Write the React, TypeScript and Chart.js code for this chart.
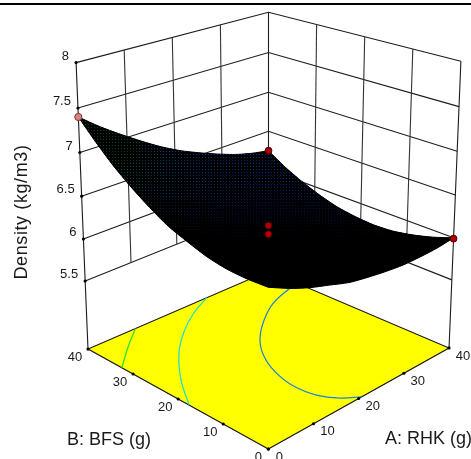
import React, { useEffect, useRef } from "react";
import { Chart, registerables } from "chart.js";

Chart.register(...registerables);

// Factor levels (g) of the grid on which the surface was read
const gridLevels = [0, 4, 8, 12, 16, 20, 24, 28, 32, 36, 40];
// Density (kg/m3) read for A: RHK = 0..40 at each B: BFS level
const densityB0 = [6.39, 6.28, 6.19, 6.12, 6.05, 6.01, 5.98, 5.96, 5.96, 5.97, 6.0];
const densityB4 = [6.38, 6.27, 6.17, 6.08, 6.01, 5.96, 5.92, 5.9, 5.89, 5.89, 5.92];
const densityB8 = [6.39, 6.27, 6.17, 6.07, 6.0, 5.94, 5.89, 5.86, 5.84, 5.84, 5.86];
const densityB12 = [6.43, 6.3, 6.19, 6.09, 6.01, 5.94, 5.89, 5.85, 5.82, 5.82, 5.82];
const densityB16 = [6.5, 6.36, 6.24, 6.13, 6.04, 5.97, 5.91, 5.86, 5.83, 5.81, 5.81];
const densityB20 = [6.58, 6.44, 6.31, 6.2, 6.1, 6.02, 5.95, 5.9, 5.86, 5.84, 5.83];
const densityB24 = [6.7, 6.55, 6.41, 6.29, 6.19, 6.1, 6.02, 5.96, 5.92, 5.89, 5.87];
const densityB28 = [6.84, 6.68, 6.54, 6.41, 6.3, 6.2, 6.12, 6.05, 6.0, 5.96, 5.94];
const densityB32 = [7.0, 6.83, 6.68, 6.55, 6.43, 6.32, 6.24, 6.16, 6.1, 6.06, 6.03];
const densityB36 = [7.19, 7.02, 6.86, 6.72, 6.59, 6.48, 6.38, 6.3, 6.23, 6.18, 6.14];
const densityB40 = [7.4, 7.22, 7.06, 6.91, 6.77, 6.65, 6.55, 6.46, 6.38, 6.32, 6.28];
const surfaceRows = [densityB0, densityB4, densityB8, densityB12, densityB16, densityB20, densityB24, densityB28, densityB32, densityB36, densityB40];

// Design points
const designA = [0, 40, 40, 20, 20];
const designB = [40, 40, 0, 20, 20];
const designDensity = [7.4, 6.28, 5.99, 6.15, 6.05];

// Contours on the floor
const contourHighA = [0, 4.9, 9.6];
const contourHighB = [31.6, 36.1, 40];
const contourMidA = [0, 3.9, 9.1, 14.4, 19.8, 25.2];
const contourMidB = [16.2, 22.4, 28.8, 33.6, 37.3, 40];
const contourLowA = [19.3, 16.8, 15.0, 14.5, 15.6, 18.0, 21.4, 26.3, 31.6, 37.7, 40];
const contourLowB = [0, 2.0, 5.0, 9.2, 14.2, 19.1, 23.3, 27.3, 30.5, 32.5, 33];

// Axes
const factorTicks = [0, 10, 20, 30, 40];
const densityTicks = [5.5, 6, 6.5, 7, 7.5, 8];
const densityLabels = ["5.5", "6", "6.5", "7", "7.5", "8"];
const zFloor = 4.67;
const zTop = 8;
const titleZ = "Density (kg/m3)";
const titleA = "A: RHK (g)";
const titleB = "B: BFS (g)";

type P = { x: number; y: number };

// Perspective camera
const project = (A: number, B: number, Z: number): P => {
  const a = A / 40;
  const b = B / 40;
  const z = (Z - zFloor) / (zTop - zFloor);
  const w = 1 + 0.1478 * a + 0.1489 * b - 0.071 * z;
  return {
    x: (268.3 + 247.1 * a - 167.2 * b - 19.1 * z) / w,
    y: (449 - 49.6 * a - 48 * b - 333.5 * z) / w,
  };
};
const lerp = (p: P, q: P, t: number): P => ({ x: p.x + (q.x - p.x) * t, y: p.y + (q.y - p.y) * t });
const corner = (A: number, B: number, Z: number): P => {
  const p = project(A, B, Z);
  return A === 40 && B === 40 ? { x: p.x, y: p.y - 2.4 } : p;
};
const backWall = (A: number, Z: number) => lerp(corner(0, 40, Z), corner(40, 40, Z), A / 40);
const sideWall = (B: number, Z: number) => lerp(corner(40, 0, Z), corner(40, 40, Z), B / 40);
const frontA = (A: number) => lerp(project(0, 0, zFloor), project(40, 0, zFloor), A / 40);
const frontB = (B: number) => lerp(project(0, 0, zFloor), project(0, 40, zFloor), B / 40);

const mix = (c0: number[], c1: number[], t: number) => c0.map((v, i) => v + (c1[i] - v) * t);

// The mesh reads as fine coloured dots on black
const patterns = new Map<string, CanvasPattern>();
const dotPattern = (c: number[]) => {
  const key = c.join(",");
  if (patterns.has(key)) return patterns.get(key) as CanvasPattern;
  const tile = document.createElement("canvas");
  tile.width = 3;
  tile.height = 3;
  const t = tile.getContext("2d") as CanvasRenderingContext2D;
  t.fillStyle = "#000";
  t.fillRect(0, 0, 3, 3);
  t.fillStyle = `rgb(${key})`;
  t.fillRect(1, 1, 1, 1);
  const pattern = t.createPattern(tile, "repeat") as CanvasPattern;
  patterns.set(key, pattern);
  return pattern;
};
const cellFill = (value: number, screenY: number) => {
  const green = [8, 68, 28];
  const teal = [0, 70, 90];
  const blue = [0, 36, 130];
  const c = value > 6.8 ? mix(teal, green, Math.min(1, (value - 6.8) / 0.3)) : value > 6.1 ? mix(blue, teal, (value - 6.1) / 0.7) : blue;
  const fade = Math.max(0, Math.min(1, (240 - screenY) / 60));
  return dotPattern(c.map((v) => Math.round((v * fade) / 8) * 8));
};

const lineSet = (data: P[], color: string, width = 1.1, tension = 0) => ({
  type: "scatter" as const,
  data,
  showLine: true,
  borderColor: color,
  borderWidth: width,
  pointRadius: 0,
  tension,
  fill: false as any,
  clip: false as any,
});
const shapeSet = (data: P[], fillStyle: any, edgeColor = "#000000", edge = 0) => ({
  ...lineSet([...data, data[0]], edgeColor, edge),
  backgroundColor: fillStyle,
  fill: "shape" as any,
});
const dotSet = (data: P[], radius: number, color: string, border: string, borderWidth = 1) => ({
  type: "scatter" as const,
  data,
  showLine: false,
  pointRadius: radius,
  pointBackgroundColor: color,
  pointBorderColor: border,
  pointBorderWidth: borderWidth,
  clip: false as any,
});

function buildDatasets() {
  const gridInk = "#1c1c1c";
  const sets: any[] = [];
  // Walls
  densityTicks.forEach((z) => {
    sets.push(lineSet([backWall(0, z), backWall(40, z), sideWall(0, z)], gridInk));
  });
  factorTicks.slice(1, 4).forEach((t) => {
    sets.push(lineSet([backWall(t, 5.5), backWall(t, 8)], "#333333"));
    sets.push(lineSet([sideWall(t, 5.5), sideWall(t, 8)], "#333333"));
  });
  sets.push(lineSet([corner(0, 40, zFloor), corner(0, 40, zTop)], gridInk));
  sets.push(lineSet([corner(40, 0, zFloor), corner(40, 0, zTop)], gridInk));
  sets.push(lineSet([corner(40, 40, zFloor), corner(40, 40, zTop)], gridInk));
  // Floor
  const floor = [project(0, 0, zFloor), project(40, 0, zFloor), project(40, 40, zFloor), project(0, 40, zFloor)];
  sets.push(shapeSet(floor, "#ffff00", "#111111", 1.1));
  // Contours
  const onFloor = (As: number[], Bs: number[]) => As.map((A, i) => project(A, Bs[i], zFloor));
  sets.push(lineSet(onFloor(contourHighA, contourHighB), "#22e02a", 1.2, 0.4));
  sets.push(lineSet(onFloor(contourMidA, contourMidB), "#19dcd8", 1.2, 0.4));
  sets.push(lineSet(onFloor(contourLowA, contourLowB), "#1f7fe0", 1.2, 0.4));
  // Ticks
  const ticks: P[] = [];
  densityTicks.forEach((z) => ticks.push(corner(0, 40, z)));
  factorTicks.forEach((t) => {
    ticks.push(frontA(t));
    ticks.push(frontB(t));
  });
  sets.push(dotSet(ticks, 1.6, "#000000", "#000000", 0));
  // Surface outline in black under the cells
  const last = gridLevels.length - 1;
  const rim: P[] = [];
  gridLevels.forEach((l, i) => rim.push(project(l, 0, densityB0[i])));
  gridLevels.forEach((l, j) => rim.push(project(40, l, surfaceRows[j][last])));
  [...gridLevels].reverse().forEach((l, i) => rim.push(project(l, 40, densityB40[last - i])));
  [...gridLevels].reverse().forEach((l, j) => rim.push(project(0, l, surfaceRows[last - j][0])));
  sets.push({ ...lineSet(rim, "#000000", 1, 0.25), backgroundColor: "#000000", fill: "shape" as any });
  // Surface, far cells first
  const cells: { pts: P[]; value: number; depth: number }[] = [];
  for (let j = 0; j < last; j++) {
    for (let i = 0; i < last; i++) {
      const nodes: [number, number][] = [[i, j], [i + 1, j], [i + 1, j + 1], [i, j + 1]];
      const pts = nodes.map(([u, v]) => project(gridLevels[u], gridLevels[v], surfaceRows[v][u]));
      const value = nodes.reduce((s, [u, v]) => s + surfaceRows[v][u], 0) / 4;
      cells.push({ pts, value, depth: i + j });
    }
  }
  cells.sort((p, q) => q.depth - p.depth);
  cells.forEach((c) => {
    const sy = c.pts.reduce((s, p) => s + p.y, 0) / 4;
    sets.push(shapeSet(c.pts, cellFill(c.value, sy)));
  });
  // Design points
  const design = designA.map((A, i) => project(A, designB[i], designDensity[i]));
  sets.push(dotSet(design.slice(1), 3.4, "#b30000", "#4a0000", 1));
  sets.push(dotSet(design.slice(0, 1), 3.6, "#e07d7d", "#6a4040", 1));
  return sets.map((s, i) => ({ ...s, order: -i }));
}

const labelPlugin = {
  id: "plotLabels",
  afterDatasetsDraw(chart: any) {
    const { ctx, scales } = chart;
    const px = (p: P, dx: number, dy: number) => [scales.x.getPixelForValue(p.x) + dx, scales.y.getPixelForValue(p.y) + dy];
    ctx.save();
    ctx.fillStyle = "#1a1a1a";
    ctx.textBaseline = "middle";
    ctx.font = '13px "Liberation Sans"';
    ctx.textAlign = "right";
    densityTicks.forEach((z, i) => {
      const [x, y] = px(corner(0, 40, z), -7, -6.5);
      ctx.fillText(densityLabels[i], x, y);
    });
    ctx.textAlign = "center";
    factorTicks.forEach((t) => {
      const [ax, ay] = px(frontA(t), t === 0 ? 11 : 14, 8);
      ctx.fillText(String(t), ax, ay);
      const [bx, by] = px(frontB(t), t === 0 ? -10 : -13, 8);
      ctx.fillText(String(t), bx, by);
    });
    ctx.font = '18px "Liberation Sans"';
    ctx.fillText(titleB, 109, 440);
    ctx.fillText(titleA, 428.5, 439);
    ctx.translate(22, 212);
    ctx.rotate(-Math.PI / 2);
    ctx.letterSpacing = "0.6px";
    ctx.fillText(titleZ, 0, 0);
    ctx.restore();
  },
};

export default function App() {
  const ref = useRef<HTMLCanvasElement>(null);
  useEffect(() => {
    document.body.style.margin = "0";
    const chart = new Chart(ref.current as HTMLCanvasElement, {
      type: "scatter",
      data: { datasets: buildDatasets() },
      options: {
        animation: false,
        responsive: false,
        devicePixelRatio: 1,
        layout: { padding: 0, autoPadding: false },
        plugins: { legend: { display: false }, tooltip: { enabled: false } },
        scales: {
          x: { type: "linear", min: 0, max: 471, display: false },
          y: { type: "linear", min: 0, max: 459, reverse: true, display: false },
        },
      },
      plugins: [labelPlugin],
    } as any);
    return () => chart.destroy();
  }, []);
  return (
    <div style={{ position: "relative", width: 471, height: 459, background: "#fff", overflow: "hidden" }}>
      <canvas ref={ref} width={471} height={459} style={{ position: "absolute", left: 0, top: 0, display: "block" }} />
      <div style={{ position: "absolute", left: 0, top: 3, width: 471, height: 2, background: "#000" }} />
    </div>
  );
}
